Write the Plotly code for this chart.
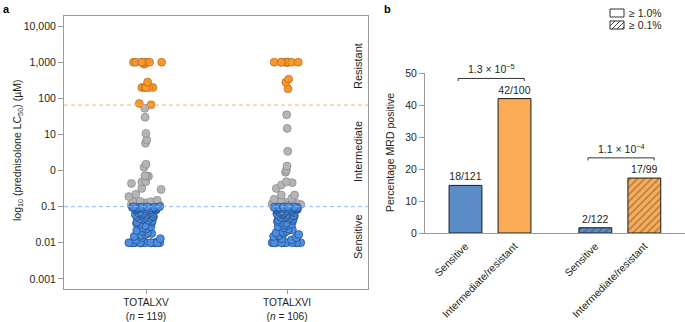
import plotly.graph_objects as go

W, H = 685, 322
FONT = "Liberation Sans, Arial, Helvetica, sans-serif"
TXT = "#231f20"
AX = "#9a9a9a"
FS = 10.5

# ---------------- Panel a data: prednisolone LC50 (µM) ----------------
trials = ["TOTALXV", "TOTALXVI"]
trial_n = [119, 106]

xv_resistant = [1000, 1000, 1000, 1000, 1000, 1000, 1000, 1000, 880,
                283, 200, 200, 200, 200, 200, 72, 66]
xv_intermediate = [53, 30, 10.7, 7, 5.7, 1.5, 1.23, 0.72, 0.70, 0.70, 0.48, 0.49,
                   0.44, 0.32, 0.30, 0.22, 0.19, 0.15, 0.14, 0.137, 0.137, 0.13,
                   0.128, 0.128, 0.12, 0.115, 0.112, 0.11, 0.108, 0.105]
xv_sensitive = [0.1, 0.1, 0.099, 0.098, 0.097, 0.096, 0.095, 0.094, 0.093, 0.092,
                0.091, 0.09, 0.089, 0.088, 0.087, 0.086, 0.085, 0.084, 0.082, 0.08,
                0.078, 0.076, 0.072, 0.07, 0.068, 0.066, 0.064, 0.062, 0.06, 0.058,
                0.057, 0.055, 0.053, 0.052, 0.05, 0.048, 0.046, 0.044, 0.042, 0.04,
                0.038, 0.037, 0.035, 0.033, 0.03, 0.028, 0.026, 0.024, 0.022, 0.021,
                0.019, 0.018, 0.017, 0.016, 0.015, 0.014, 0.013, 0.012,
                0.01, 0.01, 0.01, 0.01, 0.01, 0.01, 0.01, 0.01, 0.01, 0.01, 0.01,
                0.01, 0.01, 0.01]

xvi_resistant = [1000, 1000, 1000, 1000, 1000, 1000, 1000, 1000, 1000, 1000,
                 340, 280, 185]
xvi_intermediate = [35, 14.7, 3.4, 1.33, 1.03, 0.9, 0.49, 0.46, 0.4, 0.32, 0.21,
                    0.21, 0.17, 0.16, 0.14, 0.137, 0.13, 0.125, 0.12, 0.12, 0.115,
                    0.11, 0.105]
xvi_sensitive = [0.1, 0.099, 0.098, 0.097, 0.096, 0.095, 0.094, 0.093, 0.092,
                 0.091, 0.09, 0.089, 0.088, 0.087, 0.086, 0.085, 0.083, 0.081,
                 0.079, 0.077, 0.075, 0.073, 0.071, 0.07, 0.068, 0.066, 0.064,
                 0.062, 0.06, 0.058, 0.056, 0.055, 0.053, 0.051, 0.05, 0.048,
                 0.047, 0.045, 0.043, 0.041, 0.039, 0.037, 0.035, 0.033, 0.031,
                 0.03, 0.028, 0.026, 0.024, 0.023, 0.021, 0.02, 0.019, 0.018,
                 0.017, 0.016, 0.015, 0.014, 0.013, 0.012,
                 0.01, 0.01, 0.01, 0.01, 0.01, 0.01, 0.01, 0.01, 0.01, 0.01]

resistant_cutoff = 65
sensitive_cutoff = 0.1

ytick_vals = [0.001, 0.01, 0.1, 1, 10, 100, 1000, 10000]
ytick_text = ["0.001", "0.01", "0.1", "0", "10", "100", "1,000", "10,000"]

# ---------------- Panel b data: MRD ----------------
timepoints = ["Days 15–19", "Days 42–46"]
groups = ["Sensitive", "Intermediate/resistant"]
mrd_pos = [[18, 42], [2, 17]]
mrd_tot = [[121, 100], [122, 99]]
p_values = ["1.3 × 10<sup>−5</sup>", "1.1 × 10<sup>−4</sup>"]
mrd_thresholds = ["≥ 1.0%", "≥ 0.1%"]

# styles
dot_styles = {
    "res": dict(color="#f8972a", line=dict(color="#a9631f", width=0.6)),
    "int": dict(color="#b5b5b5", line=dict(color="#7c7c7c", width=0.6)),
    "sen": dict(color="#4a8fe4", line=dict(color="#1d3b6e", width=0.6)),
}
bar_colors = ["#5b8bc9", "#f9ab55"]
patterns = ["", "/"]

fig = go.Figure()

series = [
    (trials[0], xv_resistant, "res"), (trials[0], xv_intermediate, "int"), (trials[0], xv_sensitive, "sen"),
    (trials[1], xvi_resistant, "res"), (trials[1], xvi_intermediate, "int"), (trials[1], xvi_sensitive, "sen"),
]
for trial, vals, key in series:
    fig.add_trace(go.Box(
        x=[trial] * len(vals), y=vals, boxpoints="all", jitter=1, pointpos=0,
        width=0.25, fillcolor="rgba(0,0,0,0)", line=dict(width=0),
        marker=dict(size=8, opacity=1, **dot_styles[key]),
        showlegend=False, hoverinfo="y", xaxis="x", yaxis="y"))

# bars
group_step = 2.65
bx, by, btxt, bcol, bpat = [], [], [], [], []
for gi, tp in enumerate(timepoints):
    for ci, g in enumerate(groups):
        bx.append(gi * group_step + ci)
        by.append(100 * mrd_pos[gi][ci] / mrd_tot[gi][ci])
        btxt.append(f"{mrd_pos[gi][ci]}/{mrd_tot[gi][ci]}")
        bcol.append(bar_colors[ci])
        bpat.append(patterns[gi])

fig.add_trace(go.Bar(
    x=bx, y=by, width=0.67, text=btxt, textposition="outside", cliponaxis=False,
    textfont=dict(size=FS, color=TXT, family=FONT),
    marker=dict(color=bcol, line=dict(color="#1a1a1a", width=1),
                pattern=dict(shape=bpat, fillmode="overlay", fgcolor="#222222",
                             size=5, solidity=0.28)),
    showlegend=False, hoverinfo="y", xaxis="x2", yaxis="y2"))

def px(xp):
    return xp / W

def py(yp):
    return 1 - yp / H

shapes = []
annotations = []

# threshold lines
shapes.append(dict(type="line", xref="x domain", yref="y", x0=0, x1=1,
                   y0=resistant_cutoff, y1=resistant_cutoff,
                   line=dict(color="#f4b27a", width=1, dash="4px,3px")))
shapes.append(dict(type="line", xref="x domain", yref="y", x0=0, x1=1,
                   y0=sensitive_cutoff, y1=sensitive_cutoff,
                   line=dict(color="#8cb8ef", width=1, dash="4px,3px")))

# region labels
for label, ypix in [("Resistant", 66), ("Intermediate", 152), ("Sensitive", 237)]:
    annotations.append(dict(text=label, xref="paper", yref="paper", x=px(358), y=py(ypix),
                            textangle=-90, showarrow=False, xanchor="center", yanchor="middle",
                            font=dict(size=11, color=TXT, family=FONT)))

# axis titles
annotations.append(dict(text="log<sub>10</sub> (prednisolone LC<sub>50</sub>) (µM)",
                        xref="paper", yref="paper", x=px(9), y=py(151), textangle=-90,
                        showarrow=False, font=dict(size=FS, color=TXT, family=FONT)))
annotations.append(dict(text="Percentage MRD positive", xref="paper", yref="paper",
                        x=px(390), y=py(153), textangle=-90, showarrow=False,
                        font=dict(size=FS, color=TXT, family=FONT)))

# panel letters
annotations.append(dict(text="<b>a</b>", xref="paper", yref="paper", x=px(1), y=py(1),
                        xanchor="left", yanchor="top", showarrow=False,
                        font=dict(size=11, color="#000", family=FONT)))
annotations.append(dict(text="<b>b</b>", xref="paper", yref="paper", x=px(382), y=py(1),
                        xanchor="left", yanchor="top", showarrow=False,
                        font=dict(size=11, color="#000", family=FONT)))

# time-point headers, brackets, p-values
for gi, tp in enumerate(timepoints):
    x_left = gi * group_step
    x_right = gi * group_step + 1
    annotations.append(dict(text=tp, xref="x2", yref="y2", x=(x_left + x_right) / 2, y=56.0,
                            showarrow=False, font=dict(size=FS, color=TXT, family=FONT)))
    top = max(by[gi * 2], by[gi * 2 + 1]) + 6.3
    xa, xb = x_left - 0.15, x_right + 0.2
    shapes.append(dict(type="path", xref="x2", yref="y2",
                       path=f"M{xa},{top - 0.8} L{xa},{top} L{xb},{top} L{xb},{top - 0.8}",
                       line=dict(color="#333", width=1)))
    annotations.append(dict(text=p_values[gi], xref="x2", yref="y2", x=(xa + xb) / 2, y=top,
                            yanchor="bottom", yshift=1, showarrow=False,
                            font=dict(size=FS, color=TXT, family=FONT)))

# legend (manual)
for i, lab in enumerate(mrd_thresholds):
    y0p, y1p = 9 + 12 * i, 17 + 12 * i
    shapes.append(dict(type="rect", xref="paper", yref="paper", x0=px(610), x1=px(624),
                       y0=py(y1p), y1=py(y0p), line=dict(color="#333", width=1),
                       fillcolor="white"))
    if patterns[i]:
        for k in range(-3, 14, 5):
            xs, xe = 610 + k, 610 + k + 8
            ys, ye = y1p, y0p
            if xs < 610:
                ys = y1p - (610 - xs); xs = 610
            if xe > 624:
                ye = y0p + (xe - 624); xe = 624
            if xs < xe:
                shapes.append(dict(type="line", xref="paper", yref="paper",
                                   x0=px(xs), y0=py(ys), x1=px(xe), y1=py(ye),
                                   line=dict(color="#333", width=0.9)))
    annotations.append(dict(text=lab, xref="paper", yref="paper", x=px(627), y=py(13 + 12 * i),
                            xanchor="left", yanchor="middle", showarrow=False,
                            font=dict(size=FS, color=TXT, family=FONT)))

tick_font = dict(size=FS, color=TXT, family=FONT)
fig.update_layout(
    width=W, height=H, margin=dict(l=0, r=0, t=0, b=0, autoexpand=False),
    paper_bgcolor="white", plot_bgcolor="white",
    font=dict(family=FONT, color=TXT, size=FS),
    boxmode="overlay", barmode="overlay",
    shapes=shapes, annotations=annotations,
    xaxis=dict(domain=[px(64), px(368)], type="category", range=[-0.5816, 1.574],
               tickvals=trials,
               ticktext=[f"{t}<br>(<i>n</i> = {n})" for t, n in zip(trials, trial_n)],
               showline=True, linecolor=AX, linewidth=1, mirror=True,
               ticks="outside", ticklen=4, tickcolor=AX, showgrid=False, zeroline=False,
               ticklabelstandoff=0, automargin=False,
               tickfont=dict(size=10.2, color=TXT, family=FONT), fixedrange=True),
    yaxis=dict(domain=[py(289), py(16)], type="log", range=[-3.28, 4.28],
               tickvals=ytick_vals, ticktext=ytick_text,
               showline=True, linecolor=AX, linewidth=1, mirror=True,
               ticks="outside", ticklen=5, tickcolor=AX, showgrid=False, zeroline=False,
               automargin=False, tickfont=tick_font, fixedrange=True),
    xaxis2=dict(domain=[px(425), 1], anchor="y2", range=[-0.8265, 4.48],
                tickvals=bx, ticktext=[g for _ in timepoints for g in groups],
                tickangle=-45, showline=True, linecolor=AX, linewidth=1,
                ticks="", showgrid=False, zeroline=False, ticklabelstandoff=2,
                automargin=False, tickfont=tick_font, fixedrange=True),
    yaxis2=dict(domain=[py(233), py(73)], anchor="x2", range=[0, 50],
                tickvals=[0, 10, 20, 30, 40, 50],
                showline=True, linecolor=AX, linewidth=1,
                ticks="outside", ticklen=5, tickcolor=AX, showgrid=False, zeroline=False,
                automargin=False, tickfont=tick_font, fixedrange=True),
)

fig.write_html("out.html")
